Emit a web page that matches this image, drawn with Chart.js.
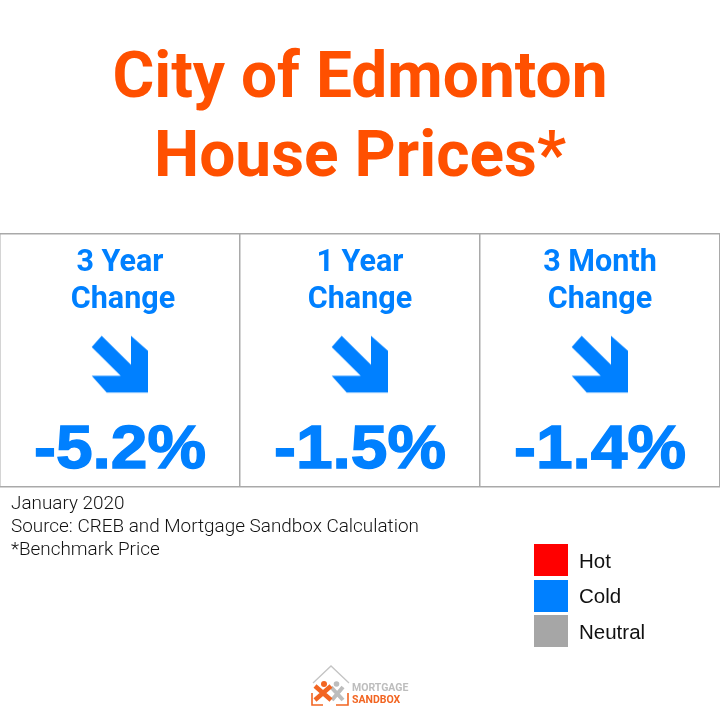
<!DOCTYPE html>
<html>
<head>
<meta charset="utf-8">
<title>City of Edmonton House Prices</title>
<script src="https://cdn.jsdelivr.net/npm/chart.js@4"></script>
<style>
    html, body { margin: 0; padding: 0; background: #fff; }
    #page { position: relative; width: 720px; height: 720px; overflow: hidden; }
    #page canvas { position: absolute; left: 0; top: 0; }
    .abs { position: absolute; white-space: nowrap; }
    #title { left: 0; width: 720px; top: 36px; text-align: center; color: #FF5000; font: 700 64px/79px Roboto, sans-serif; }
    #notes { left: 11px; top: 491px; color: #111; font: 300 18.9px/23px Roboto, sans-serif; }
    .swatch { position: absolute; left: 534px; width: 34px; height: 32px; }
    .swatch-label { position: absolute; left: 579px; color: #111; font: 20.5px/24px "Liberation Sans", sans-serif; }
    #logo-text { left: 352px; top: 682px; font: 700 10.5px/11.5px Roboto, sans-serif; }
</style>
</head>
<body>
<div id="page">
    <canvas id="chart" width="720" height="720"></canvas>
    <div id="title" class="abs"></div>
    <div id="notes" class="abs"></div>
    <div id="legend"></div>
    <svg class="abs" style="left:305px;top:660px" width="50" height="50" viewBox="0 0 50 50">
        <path d="M8 23 L26 6 L44 23" fill="none" stroke="#c4c4c4" stroke-width="1.3"/>
        <path d="M7 33 V45 H18 M31 45 H43 V33" fill="none" stroke="#F26522" stroke-width="1.6"/>
        <circle cx="31.5" cy="24" r="2.8" fill="#bdbdbd"/>
        <path d="M26 27 L38 40 M38 27 L27 40" stroke="#bdbdbd" stroke-width="4" fill="none"/>
        <circle cx="19" cy="24" r="3" fill="#F26522"/>
        <path d="M10 26 L26 40 M26 26 L10 40" stroke="#F26522" stroke-width="4.5" fill="none"/>
    </svg>
    <div id="logo-text" class="abs"><span style="color:#bdbdbd">MORTGAGE</span><br><span style="color:#F26522">SANDBOX</span></div>
</div>
<script>
const titleLines = ['City of Edmonton', 'House Prices*'];
const periods = [['3 Year', 'Change'], ['1 Year', 'Change'], ['3 Month', 'Change']];
const changes = [-5.2, -1.5, -1.4];
const noteLines = ['January 2020', 'Source: CREB and Mortgage Sandbox Calculation', '*Benchmark Price'];
const legendLabels = ['Hot', 'Cold', 'Neutral'];
const legendColors = ['#FF0000', '#0080FF', '#A6A6A6'];

const BLUE = legendColors[1];
const GRID = '#A9A9A9';

// Text outside the table
document.getElementById('title').innerHTML = titleLines.join('<br>');
document.getElementById('notes').innerHTML = noteLines.join('<br>');

const swatchTops = [544, 580, 615];
const legendEl = document.getElementById('legend');
legendLabels.forEach((label, i) => {
    const box = document.createElement('div');
    box.className = 'swatch';
    box.style.top = swatchTops[i] + 'px';
    box.style.background = legendColors[i];
    legendEl.appendChild(box);
    const text = document.createElement('div');
    text.className = 'swatch-label';
    text.style.top = (swatchTops[i] + (i === 1 ? 4 : 5)) + 'px';
    text.textContent = label;
    legendEl.appendChild(text);
});

// Down-right arrow used as the point style
function makeArrow(color) {
    const c = document.createElement('canvas');
    c.width = 60;
    c.height = 60;
    const g = c.getContext('2d');
    const shape = [[-28.3, -17.2], [-18.3, -28.5], [11, 0.5], [11, -28.5], [28, -13.5], [28, 28.2], [-13.3, 28.2], [-28.3, 11.5], [0.7, 11.5]];
    g.translate(30, 30);
    g.fillStyle = color;
    g.beginPath();
    shape.forEach((p, i) => i ? g.lineTo(p[0], p[1]) : g.moveTo(p[0], p[1]));
    g.closePath();
    g.fill();
    return c;
}

// Period names and percentages inside the table cells
const cellText = {
    id: 'cellText',
    afterDatasetsDraw(chart) {
        const { ctx, scales } = chart;
        ctx.save();
        ctx.textAlign = 'center';
        ctx.textBaseline = 'alphabetic';
        ctx.fillStyle = BLUE;
        ctx.strokeStyle = BLUE;
        ctx.lineWidth = 1.4;
        changes.forEach((v, i) => {
            const x = scales.x.getPixelForValue(i);
            ctx.font = '700 30.5px Roboto, sans-serif';
            ctx.fillText(periods[i][0], x, scales.y.getPixelForValue(0.854));
            ctx.fillText(periods[i][1], x + (i === 0 ? 3 : 0), scales.y.getPixelForValue(0.7075));

            // the percentages are wider than the font, so stretch them a little
            ctx.save();
            ctx.translate(x, scales.y.getPixelForValue(0.075));
            ctx.scale(1.08, 1);
            ctx.font = '700 61px "Liberation Sans", sans-serif';
            const label = v.toFixed(1) + '%';
            ctx.fillText(label, 0, 0);
            ctx.strokeText(label, 0, 0);
            ctx.restore();
        });
        ctx.restore();
    }
};

new Chart(document.getElementById('chart'), {
    type: 'line',
    data: {
        labels: periods.map(p => p.join(' ')),
        datasets: [{
            label: 'Change',
            data: changes.map(() => 0.485),
            showLine: false,
            pointStyle: makeArrow(BLUE),
            pointRadius: 30,
            pointHoverRadius: 30
        }]
    },
    options: {
        responsive: false,
        animation: false,
        devicePixelRatio: 1,
        layout: { autoPadding: false, padding: { top: 234, bottom: 233, left: 0, right: 0 } },
        scales: {
            x: {
                offset: true,
                grid: { color: GRID, lineWidth: 1.5, offset: true, drawTicks: false },
                border: { display: false },
                ticks: { display: false }
            },
            y: {
                min: 0,
                max: 1,
                grid: { color: GRID, lineWidth: 1.5, drawTicks: false },
                border: { display: false },
                ticks: { display: false, stepSize: 1 }
            }
        },
        plugins: {
            legend: { display: false },
            tooltip: { enabled: false }
        }
    },
    plugins: [cellText]
});
</script>
</body>
</html>
